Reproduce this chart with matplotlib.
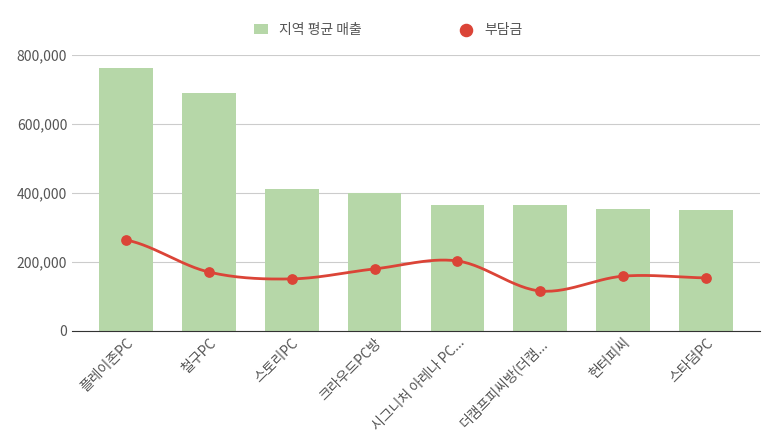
import matplotlib.pyplot as plt
import numpy as np
from matplotlib.ticker import FuncFormatter

plt.rcParams['font.family'] = ['Noto Sans CJK KR']

# Data
stores = ['플레이존PC', '철구PC', '스토리PC', '크라우드PC방', '시그니처 아레나 PC...',
          '더캠프피씨방(더캠...', '헌터피씨', '스타덤PC']
avg_sales = [762000, 690000, 411000, 400000, 365000, 365000, 354000, 351000]
burden = [264000, 171000, 151000, 180000, 203000, 116000, 159000, 154000]

fig = plt.figure(figsize=(7.73, 4.48), dpi=100)
ax = fig.add_axes([72 / 773, 1 - 331 / 448, 688 / 773, 276 / 448])
x = np.arange(len(stores))

bars = ax.bar(x, avg_sales, width=0.65, color='#b6d7a8', label='지역 평균 매출', zorder=2)

# smooth curve through the points (Catmull-Rom)
def smooth(xs, ys, n=30):
    xs = np.asarray(xs, float); ys = np.asarray(ys, float)
    px = np.concatenate([[2 * xs[0] - xs[1]], xs, [2 * xs[-1] - xs[-2]]])
    py = np.concatenate([[ys[0]], ys, [ys[-1]]])
    ox, oy = [], []
    for i in range(1, len(px) - 2):
        t = np.linspace(0, 1, n)
        for p, o in ((px, ox), (py, oy)):
            p0, p1, p2, p3 = p[i - 1], p[i], p[i + 1], p[i + 2]
            o.extend(0.5 * (2 * p1 + (-p0 + p2) * t + (2 * p0 - 5 * p1 + 4 * p2 - p3) * t ** 2
                            + (-p0 + 3 * p1 - 3 * p2 + p3) * t ** 3))
    return ox, oy

sx, sy = smooth(x, burden)
ax.plot(sx, sy, color='#db4437', lw=2, zorder=3)
pts = ax.scatter(x, burden, color='#db4437', s=45, zorder=4, label='부담금')

ax.set_xlim(-0.65, len(stores) - 0.35)
ax.set_ylim(0, 800000)
ax.set_yticks(range(0, 800001, 200000))
ax.yaxis.set_major_formatter(FuncFormatter(lambda v, p: f'{int(v):,}'))
ax.grid(axis='y', color='#cccccc', lw=0.8, zorder=0)
for s in ['top', 'right', 'left']:
    ax.spines[s].set_visible(False)
ax.spines['bottom'].set_color('#333333')
ax.tick_params(axis='both', length=0, colors='#555555', labelsize=10)
ax.set_xticks(x)
ax.set_xticklabels(stores, rotation=45, ha='right', rotation_mode='anchor')

ax.legend([bars, pts], ['지역 평균 매출', '부담금'], loc='lower center',
          bbox_to_anchor=(0.46, 1.02), ncol=2, frameon=False, fontsize=10,
          labelcolor='#555555', columnspacing=7, handlelength=1, markerscale=1.3)

plt.savefig('out.png')
